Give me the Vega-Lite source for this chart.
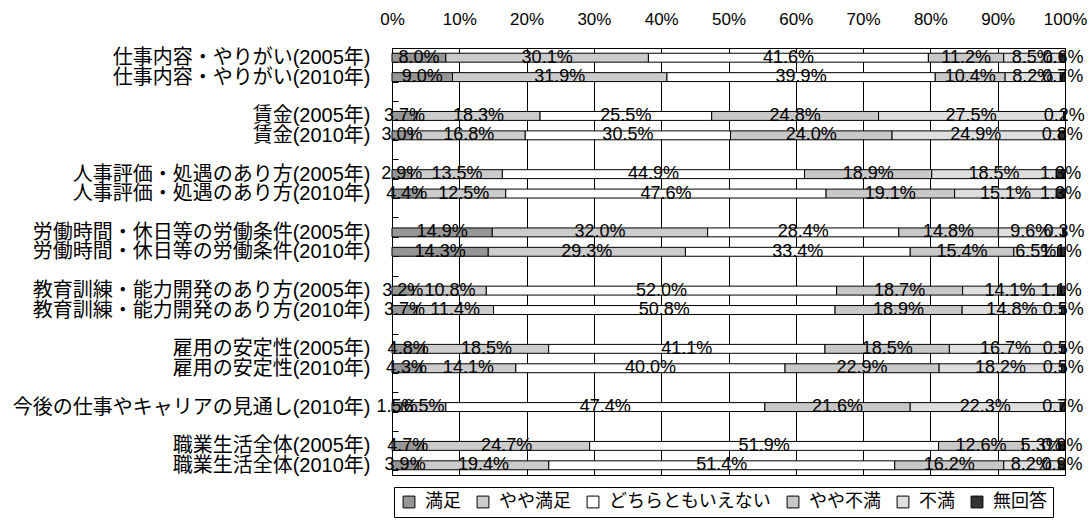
{
  "$schema": "https://vega.github.io/schema/vega-lite/v6.json",
  "width": 673,
  "height": 427,
  "padding": {"left": 12, "top": 10, "right": 5, "bottom": 3},
  "background": "white",
  "config": {
    "font": "Liberation Sans, Noto Sans CJK JP, sans-serif",
    "view": {"stroke": "#000", "strokeWidth": 1}
  },
  "datasets": {
    "d": [
      {"row": "仕事内容・やりがい(2005年)", "満足": 8.0, "やや満足": 30.1, "どちらともいえない": 41.6, "やや不満": 11.2, "不満": 8.5, "無回答": 0.6},
      {"row": "仕事内容・やりがい(2010年)", "満足": 9.0, "やや満足": 31.9, "どちらともいえない": 39.9, "やや不満": 10.4, "不満": 8.2, "無回答": 0.7},
      {"row": "賃金(2005年)", "満足": 3.7, "やや満足": 18.3, "どちらともいえない": 25.5, "やや不満": 24.8, "不満": 27.5, "無回答": 0.2},
      {"row": "賃金(2010年)", "満足": 3.0, "やや満足": 16.8, "どちらともいえない": 30.5, "やや不満": 24.0, "不満": 24.9, "無回答": 0.8},
      {"row": "人事評価・処遇のあり方(2005年)", "満足": 2.9, "やや満足": 13.5, "どちらともいえない": 44.9, "やや不満": 18.9, "不満": 18.5, "無回答": 1.3},
      {"row": "人事評価・処遇のあり方(2010年)", "満足": 4.4, "やや満足": 12.5, "どちらともいえない": 47.6, "やや不満": 19.1, "不満": 15.1, "無回答": 1.3},
      {"row": "労働時間・休日等の労働条件(2005年)", "満足": 14.9, "やや満足": 32.0, "どちらともいえない": 28.4, "やや不満": 14.8, "不満": 9.6, "無回答": 0.3},
      {"row": "労働時間・休日等の労働条件(2010年)", "満足": 14.3, "やや満足": 29.3, "どちらともいえない": 33.4, "やや不満": 15.4, "不満": 6.5, "無回答": 1.1},
      {"row": "教育訓練・能力開発のあり方(2005年)", "満足": 3.2, "やや満足": 10.8, "どちらともいえない": 52.0, "やや不満": 18.7, "不満": 14.1, "無回答": 1.1},
      {"row": "教育訓練・能力開発のあり方(2010年)", "満足": 3.7, "やや満足": 11.4, "どちらともいえない": 50.8, "やや不満": 18.9, "不満": 14.8, "無回答": 0.5},
      {"row": "雇用の安定性(2005年)", "満足": 4.8, "やや満足": 18.5, "どちらともいえない": 41.1, "やや不満": 18.5, "不満": 16.7, "無回答": 0.5},
      {"row": "雇用の安定性(2010年)", "満足": 4.3, "やや満足": 14.1, "どちらともいえない": 40.0, "やや不満": 22.9, "不満": 18.2, "無回答": 0.5},
      {"row": "今後の仕事やキャリアの見通し(2010年)", "満足": 1.5, "やや満足": 6.5, "どちらともいえない": 47.4, "やや不満": 21.6, "不満": 22.3, "無回答": 0.7},
      {"row": "職業生活全体(2005年)", "満足": 4.7, "やや満足": 24.7, "どちらともいえない": 51.9, "やや不満": 12.6, "不満": 5.3, "無回答": 0.9},
      {"row": "職業生活全体(2010年)", "満足": 3.9, "やや満足": 19.4, "どちらともいえない": 51.4, "やや不満": 16.2, "不満": 8.2, "無回答": 0.9}
    ]
  },
  "data": {"name": "d"},
  "transform": [
    {"fold": ["満足", "やや満足", "どちらともいえない", "やや不満", "不満", "無回答"], "as": ["cat", "value"]},
    {"calculate": "indexof(['満足','やや満足','どちらともいえない','やや不満','不満','無回答'], datum.cat)", "as": "ord"},
    {"stack": "value", "groupby": ["row"], "sort": [{"field": "ord", "order": "ascending"}], "offset": "normalize", "as": ["v0", "v1"]},
    {"calculate": "(datum.v0 + datum.v1) / 2", "as": "mid"},
    {"calculate": "format(datum.value, '.1f') + '%'", "as": "label"}
  ],
  "encoding": {
    "y": {
      "field": "row",
      "type": "nominal",
      "scale": {
        "domain": ["仕事内容・やりがい(2005年)", "仕事内容・やりがい(2010年)", " ", "賃金(2005年)", "賃金(2010年)", "  ", "人事評価・処遇のあり方(2005年)", "人事評価・処遇のあり方(2010年)", "   ", "労働時間・休日等の労働条件(2005年)", "労働時間・休日等の労働条件(2010年)", "    ", "教育訓練・能力開発のあり方(2005年)", "教育訓練・能力開発のあり方(2010年)", "     ", "雇用の安定性(2005年)", "雇用の安定性(2010年)", "      ", "今後の仕事やキャリアの見通し(2010年)", "       ", "職業生活全体(2005年)", "職業生活全体(2010年)"],
        "paddingInner": 0.54,
        "paddingOuter": 0.27
      },
      "axis": {
        "title": null,
        "labelFontSize": 20,
        "labelColor": "#000",
        "labelPadding": 28,
        "labelLimit": 0,
        "ticks": true,
        "tickBand": "extent",
        "tickSize": -6,
        "tickColor": "#000",
        "domainColor": "#000"
      }
    }
  },
  "layer": [
    {
      "mark": {"type": "bar", "stroke": "#000", "strokeWidth": 1},
      "encoding": {
        "x": {
          "field": "v0",
          "type": "quantitative",
          "scale": {"domain": [0, 1], "nice": false},
          "axis": {
            "orient": "top",
            "format": ".0%",
            "values": [0, 0.1, 0.2, 0.3, 0.4, 0.5, 0.6, 0.7, 0.8, 0.9, 1],
            "title": null,
            "labelFontSize": 17,
            "labelColor": "#000",
            "ticks": false,
            "labelPadding": 20,
            "domain": false,
            "grid": true,
            "gridColor": "#000",
            "gridOpacity": 1,
            "labelFlush": false
          }
        },
        "x2": {"field": "v1"},
        "color": {
          "field": "cat",
          "type": "nominal",
          "scale": {
            "domain": ["満足", "やや満足", "どちらともいえない", "やや不満", "不満", "無回答"],
            "range": ["#969696", "#cccccc", "#ffffff", "#c8c8c8", "#dedede", "#333333"]
          },
          "legend": {
            "title": null,
            "orient": "none",
            "legendX": 2,
            "legendY": 439,
            "direction": "horizontal",
            "strokeColor": "#000",
            "padding": 6,
            "symbolType": "square",
            "symbolSize": 140,
            "symbolStrokeColor": "#000",
            "symbolStrokeWidth": 1,
            "labelFontSize": 18,
            "labelColor": "#000",
            "labelOffset": 7,
            "columnPadding": 13,
            "labelLimit": 0
          }
        }
      }
    },
    {
      "mark": {"type": "text", "fontSize": 18, "color": "#000", "align": "center", "baseline": "middle"},
      "encoding": {
        "x": {"field": "mid", "type": "quantitative"},
        "text": {"field": "label"}
      }
    }
  ]
}
